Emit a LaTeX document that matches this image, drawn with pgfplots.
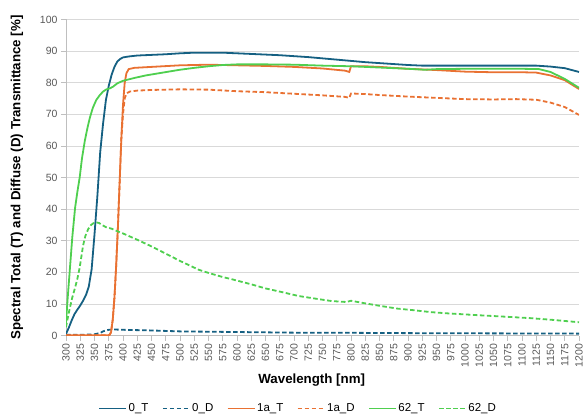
\documentclass[border=0pt]{standalone}
\usepackage{fontspec}
\setmainfont{Liberation Sans}
\usepackage{pgfplots}
\pgfplotsset{compat=1.18}

\definecolor{cBlue}{HTML}{156082}
\definecolor{cOrange}{HTML}{E97132}
\definecolor{cGreen}{HTML}{4FCF4F}
\definecolor{cGrid}{HTML}{D9D9D9}
\definecolor{cAxis}{HTML}{BFBFBF}
\definecolor{cTick}{HTML}{595959}
\tikzset{dstyle/.style={dash pattern=on 4.5pt off 2.5pt}}

\begin{document}
\begin{tikzpicture}
\path[use as bounding box] (-66pt,-82pt) rectangle (519pt,335.5pt);
\begin{axis}[
    scale only axis,
    width=513pt, height=316pt,
    xmin=300, xmax=1200, ymin=0, ymax=100,
    xtick={300,325,...,1200},
    ytick={0,10,...,100},
    axis x line*=bottom, axis y line*=left,
    axis line style={cAxis, line width=0.8pt, -},
    tick align=outside,
    major tick length=5pt,
    tick style={cAxis, line width=0.8pt},
    ymajorgrids,
    grid style={cGrid, line width=0.8pt},
    /pgf/number format/assume math mode=true,
    /pgf/number format/1000 sep={},
    ticklabel style={font=\fontsize{10.5}{12}\selectfont, text=cTick},
    x tick label style={rotate=90, anchor=east},
    xlabel={\textbf{Wavelength [nm]}},
    ylabel={\textbf{Spectral Total (T) and Diffuse (D) Transmittance [\%]}},
    label style={font=\fontsize{13.3}{15}\selectfont},
    xlabel style={at={(axis description cs:0.479,-0.1424)}, anchor=center},
    ylabel style={at={(axis description cs:-0.0955,0.5)}, anchor=center, rotate=0},
    legend columns=6,
    legend style={at={(axis description cs:0.452,-0.231)}, anchor=center,
        draw=none, fill=none, font=\fontsize{11.5}{13}\selectfont,
        /tikz/every even column/.append style={column sep=12pt},
        nodes={inner sep=1.5pt}},
    legend image code/.code={\draw[#1] (0pt,0pt) -- (27pt,0pt);},
]
% 0_T
\addplot[cBlue, line width=1.8pt] table {
300 0.5
305 2.5
310 4.8
315 6.8
320 8.2
325 9.5
330 11
335 12.8
340 15.5
345 21
350 32
355 44
360 58
365 67
370 74.5
375 79
380 82.5
385 85
390 86.7
395 87.5
400 88
410 88.3
425 88.6
450 88.8
475 89
500 89.3
525 89.5
550 89.5
575 89.5
600 89.3
625 89.1
650 88.9
675 88.7
700 88.4
725 88.1
750 87.7
775 87.3
800 86.9
825 86.5
850 86.2
875 85.9
900 85.6
925 85.4
950 85.4
1000 85.4
1050 85.4
1100 85.4
1125 85.4
1150 85.1
1175 84.6
1200 83.4
};
% 0_D
\addplot[cBlue, line width=1.8pt, dstyle] table {
300 0.2
320 0.2
340 0.3
350 0.4
360 0.8
365 1.3
370 1.6
375 1.8
385 1.9
400 1.8
450 1.6
500 1.3
600 1.1
700 0.9
800 0.85
900 0.75
1000 0.7
1100 0.65
1200 0.6
};
% 1a_T
\addplot[cOrange, line width=1.8pt] table {
300 0.1
376 0.1
379 1
382 5
385 12
388 22
391 34
394 48
397 62
400 73
403 80
406 83
410 84.3
420 84.7
450 85
500 85.5
550 85.7
600 85.5
650 85.3
700 85
750 84.5
790 83.8
797 83.4
800 85.2
825 85.2
850 85
900 84.4
950 84
1000 83.5
1050 83.3
1100 83.3
1125 83.2
1150 82.3
1175 80.8
1200 78
};
% 1a_D
\addplot[cOrange, line width=1.8pt, dstyle] table {
300 0.1
376 0.1
379 1
382 5
385 12
388 22
391 34
394 48
397 62
400 70
403 75
406 76.6
412 77.2
425 77.5
450 77.7
500 77.9
550 77.8
600 77.3
650 77
700 76.5
750 76
790 75.5
797 75.2
800 76.6
825 76.4
850 76.1
900 75.6
950 75.2
1000 74.8
1050 74.7
1090 74.8
1125 74.6
1150 73.7
1175 72.3
1200 69.8
};
% 62_T
\addplot[cGreen, line width=1.8pt] table {
300 4
303 12
307 21.5
311 31
316 40.5
320 45.5
324 50
328 56
333 61.6
338 66
342 69
347 72
353 74.5
359 76
365 77.2
371 77.9
377 78.2
383 78.8
390 79.8
400 80.6
420 81.5
440 82.3
460 82.9
480 83.5
500 84.1
525 84.7
550 85.2
575 85.6
600 85.8
650 85.8
700 85.7
750 85.4
800 85.2
850 84.8
900 84.4
930 84.1
950 84.3
1000 84.4
1050 84.4
1100 84.4
1130 84.3
1150 83.4
1175 81.2
1200 78.4
};
% 62_D
\addplot[cGreen, line width=1.8pt, dstyle] table {
300 2.6
303 5.5
307 8.9
311 12
316 15.2
320 18
324 21.5
327 25
330 28.5
334 31.5
339 33.7
344 35
348 35.5
353 35.8
358 35.6
363 35
370 34.3
380 33.8
390 33
400 32.3
425 30.3
450 28.2
475 25.9
500 23.6
533 20.8
550 19.8
575 18.5
591 17.8
625 16.2
650 14.9
675 13.9
708 12.5
740 11.6
766 10.9
792 10.6
800 11
824 10.2
850 9.4
882 8.5
910 8
940 7.4
970 7
998 6.7
1025 6.4
1056 6.1
1085 5.8
1114 5.5
1150 5
1175 4.6
1200 4.2
};
\legend{0\_T, 0\_D, 1a\_T, 1a\_D, 62\_T, 62\_D}
\end{axis}
\end{tikzpicture}
\end{document}
